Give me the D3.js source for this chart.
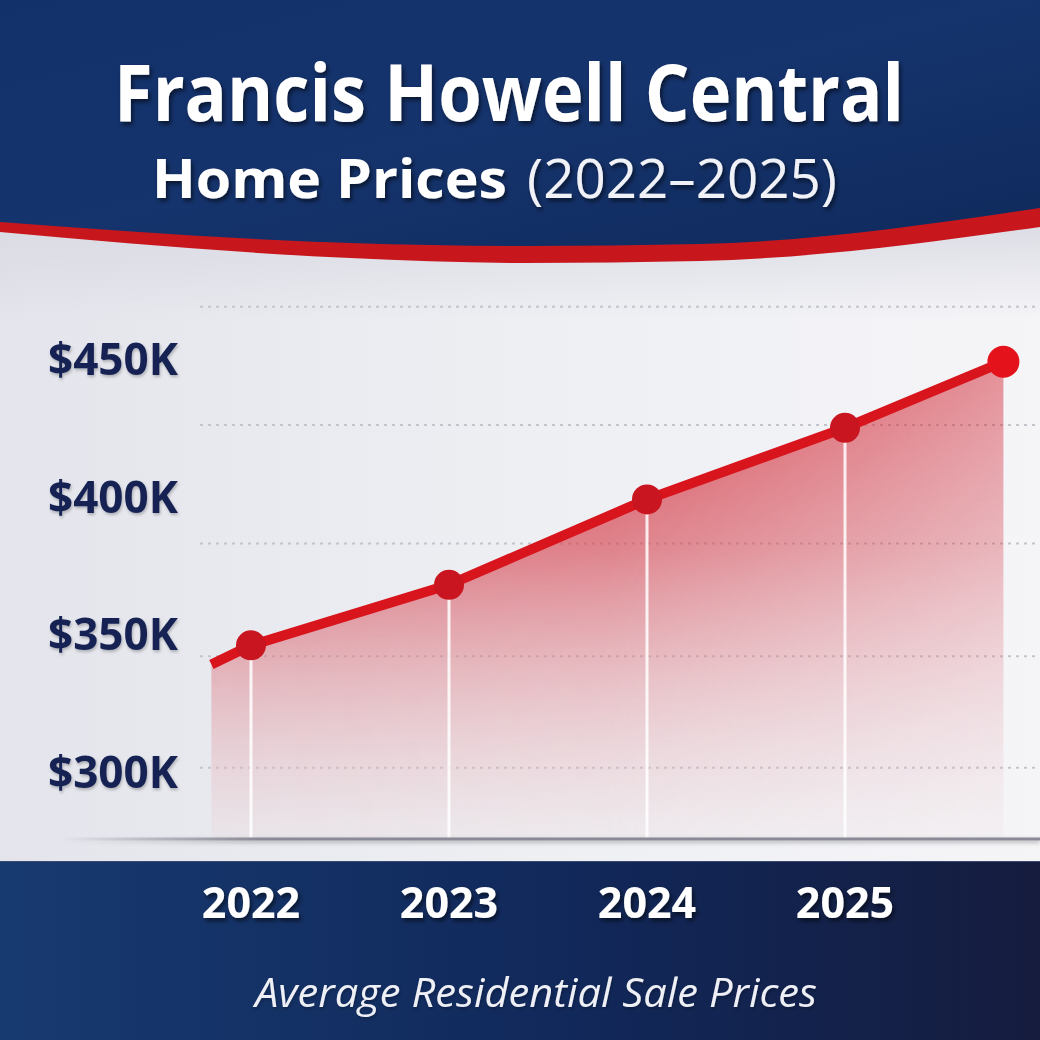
<!DOCTYPE html>
<html>
<head>
<meta charset="utf-8">
<script src="https://cdn.jsdelivr.net/npm/d3@7"></script>
<style>
  html, body { margin: 0; padding: 0; background: #fff; }
  svg { display: block; }
</style>
</head>
<body>
<div id="chart"></div>
<script>
// ---- data ----
const titleLine1 = "Francis Howell Central";
const titleLine2Bold = "Home Prices";
const titleLine2Light = "(2022\u20132025)";
const subtitle = "Average Residential Sale Prices";

const tickYears = [2022, 2023, 2024, 2025];
const tickLabels = ["2022", "2023", "2024", "2025"];
const priceTicks = [300, 350, 400, 450];
const priceLabels = ["$300K", "$350K", "$400K", "$450K"];
const gridValues = [469, 426, 383, 342, 301.5];

const seriesYears = [2021.8, 2022, 2023, 2024, 2025, 2025.8];
const seriesValues = [339, 346, 368, 399, 425, 449];   // $K
const markerYears = [2022, 2023, 2024, 2025, 2025.8];

// ---- layout ----
const W = 1040, H = 1040;
const svg = d3.select("#chart").append("svg").attr("width", W).attr("height", H);
const defs = svg.append("defs");

const x = d3.scaleLinear().domain([2022, 2025]).range([251, 845]);
const y = d3.scaleLinear().domain([300, 450]).range([772, 359]);
const baseY = 839, footerY = 861;

const series = seriesYears.map((yr, i) => ({ yr, v: seriesValues[i] }));
const markers = series.filter(d => markerYears.includes(d.yr));

// gradients
function lin(id, x1, y1, x2, y2, stops, units) {
  const g = defs.append("linearGradient").attr("id", id)
    .attr("x1", x1).attr("y1", y1).attr("x2", x2).attr("y2", y2);
  if (units) g.attr("gradientUnits", units);
  stops.forEach(s => g.append("stop").attr("offset", s[0]).attr("stop-color", s[1]).attr("stop-opacity", s[2] == null ? 1 : s[2]));
  return g;
}
lin("bodyBg", "0", "0", "1", "0", [[0, "#e4e5ec"], [0.5, "#eeeff3"], [1, "#f5f5f8"]]);
lin("bodyTop", "0", "0", "0", "1", [[0, "#d6d7e0"], [1, "#d6d7e0", 0]]);
lin("navy", "0", "0", "1", "1", [[0, "#12306a"], [0.5, "#15336c"], [1, "#0f2a5c"]]);
lin("footer", "0", "0", "1", "0", [[0, "#173a70"], [0.55, "#11285a"], [1, "#151c3e"]]);
lin("areaV", "0", String(y(450)), "0", String(baseY), [[0, "#d21f2c", 0.95], [0.4, "#d64955", 0.72], [0.8, "#e4a8ae", 0.42], [1, "#ecdadd", 0.3]], "userSpaceOnUse");
lin("areaMaskG", String(x(2021.8)), "0", String(x(2025.8)), "0", [[0, "#fff", 1], [0.5, "#fff", 0.9], [1, "#fff", 0.5]], "userSpaceOnUse");
lin("baseG", "60", "0", "260", "0", [[0, "#8a8a96", 0], [1, "#8a8a96", 1]], "userSpaceOnUse");

const mask = defs.append("mask").attr("id", "areaMask");
mask.append("rect").attr("x", 0).attr("y", 0).attr("width", W).attr("height", H).attr("fill", "url(#areaMaskG)");

const sh = defs.append("filter").attr("id", "txtShadow").attr("x", "-10%").attr("y", "-30%").attr("width", "120%").attr("height", "160%");
sh.append("feDropShadow").attr("dx", 2).attr("dy", 3).attr("stdDeviation", 2).attr("flood-color", "#000").attr("flood-opacity", 0.55);
const sh2 = defs.append("filter").attr("id", "lblShadow").attr("x", "-10%").attr("y", "-30%").attr("width", "120%").attr("height", "160%");
sh2.append("feDropShadow").attr("dx", 1).attr("dy", 2).attr("stdDeviation", 1.5).attr("flood-color", "#000").attr("flood-opacity", 0.25);
const sh3 = defs.append("filter").attr("id", "baseShadow").attr("filterUnits", "userSpaceOnUse")
  .attr("x", 0).attr("y", baseY - 10).attr("width", W).attr("height", 24);
sh3.append("feDropShadow").attr("dx", 0).attr("dy", 2).attr("stdDeviation", 2).attr("flood-color", "#000").attr("flood-opacity", 0.3);

// background
svg.append("rect").attr("width", W).attr("height", H).attr("fill", "url(#bodyBg)");
svg.append("rect").attr("x", 0).attr("y", 200).attr("width", W).attr("height", 120).attr("fill", "url(#bodyTop)");

// header wave
const curve = d3.line().curve(d3.curveMonotoneX);
const redEdge = [[0, 232], [350, 258], [525, 263], [700, 261], [1040, 227]];
const navyEdge = [[0, 222], [350, 243], [525, 246], [700, 244], [1040, 208]];
svg.append("path").attr("d", "M0,0L1040,0" + curve(redEdge.slice().reverse()).replace(/^M/, "L") + "Z").attr("fill", "#c8161d");
svg.append("path").attr("d", "M0,0L1040,0" + curve(navyEdge.slice().reverse()).replace(/^M/, "L") + "Z").attr("fill", "url(#navy)");

// title
svg.append("text").attr("x", 509).attr("y", 121).attr("text-anchor", "middle")
  .attr("font-family", "'Open Sans', sans-serif").attr("font-weight", 700).attr("font-size", 78)
  .attr("textLength", 790).attr("lengthAdjust", "spacingAndGlyphs")
  .attr("fill", "#fff").attr("filter", "url(#txtShadow)").text(titleLine1);
const t2 = svg.append("text").attr("x", 152).attr("y", 198)
  .attr("font-family", "'Open Sans', sans-serif").attr("font-size", 54)
  .attr("fill", "#fff").attr("filter", "url(#txtShadow)");
t2.append("tspan").attr("font-weight", 700).attr("textLength", 355).attr("lengthAdjust", "spacingAndGlyphs").text(titleLine2Bold);
t2.append("tspan").attr("x", 527).attr("font-weight", 400).attr("fill", "#f0f2f8").attr("textLength", 310).attr("lengthAdjust", "spacingAndGlyphs").text(titleLine2Light);

// gridlines
svg.append("g").selectAll("line").data(gridValues).join("line")
  .attr("x1", 200).attr("x2", W).attr("y1", d => y(d)).attr("y2", d => y(d))
  .attr("stroke", "#c3c4ce").attr("stroke-width", 2).attr("stroke-dasharray", "3,5");

// area
const area = d3.area().x(d => x(d.yr)).y0(baseY).y1(d => y(d.v));
svg.append("path").datum(series).attr("d", area).attr("fill", "url(#areaV)").attr("mask", "url(#areaMask)");

// vertical white lines
svg.append("g").selectAll("line").data(markers.filter(d => tickYears.includes(d.yr))).join("line")
  .attr("x1", d => x(d.yr)).attr("x2", d => x(d.yr)).attr("y1", d => y(d.v)).attr("y2", baseY)
  .attr("stroke", "#fff").attr("stroke-opacity", 0.85).attr("stroke-width", 3);

// baseline
svg.append("line").attr("x1", 60).attr("x2", W).attr("y1", baseY).attr("y2", baseY)
  .attr("stroke", "url(#baseG)").attr("stroke-width", 3).attr("filter", "url(#baseShadow)");

// line
const line = d3.line().x(d => x(d.yr)).y(d => y(d.v));
svg.append("path").datum(series).attr("d", line).attr("fill", "none")
  .attr("stroke", "#d8141c").attr("stroke-width", 10).attr("stroke-linejoin", "round");

// markers
svg.append("g").selectAll("circle").data(markers).join("circle")
  .attr("cx", d => x(d.yr)).attr("cy", d => y(d.v))
  .attr("r", d => d.yr === 2025.8 ? 16 : 15)
  .attr("fill", d => d.yr === 2025.8 ? "#e3121b" : "#c9151f");

// y labels
svg.append("g").selectAll("text").data(priceTicks).join("text")
  .attr("x", 48).attr("y", d => y(d)).attr("dy", "0.36em")
  .attr("font-family", "'Open Sans', sans-serif").attr("font-weight", 700).attr("font-size", 44)
  .attr("textLength", 130).attr("lengthAdjust", "spacingAndGlyphs")
  .attr("fill", "#172452").attr("filter", "url(#lblShadow)")
  .text((d, i) => priceLabels[i]);

// footer
svg.append("rect").attr("x", 0).attr("y", footerY).attr("width", W).attr("height", H - footerY).attr("fill", "url(#footer)");
svg.append("rect").attr("x", 0).attr("y", footerY).attr("width", W).attr("height", 1).attr("fill", "#3a4a70");

svg.append("g").selectAll("text").data(tickYears).join("text")
  .attr("x", d => x(d)).attr("y", 918).attr("text-anchor", "middle")
  .attr("font-family", "'Open Sans', sans-serif").attr("font-weight", 700).attr("font-size", 43)
  .attr("fill", "#fff").attr("filter", "url(#txtShadow)")
  .text((d, i) => tickLabels[i]);

svg.append("text").attr("x", 536).attr("y", 1007).attr("text-anchor", "middle")
  .attr("font-family", "'Open Sans', sans-serif").attr("font-style", "italic").attr("font-size", 40)
  .attr("textLength", 562).attr("lengthAdjust", "spacingAndGlyphs")
  .attr("fill", "#eef0f6").attr("filter", "url(#lblShadow)").text(subtitle);
</script>
</body>
</html>
